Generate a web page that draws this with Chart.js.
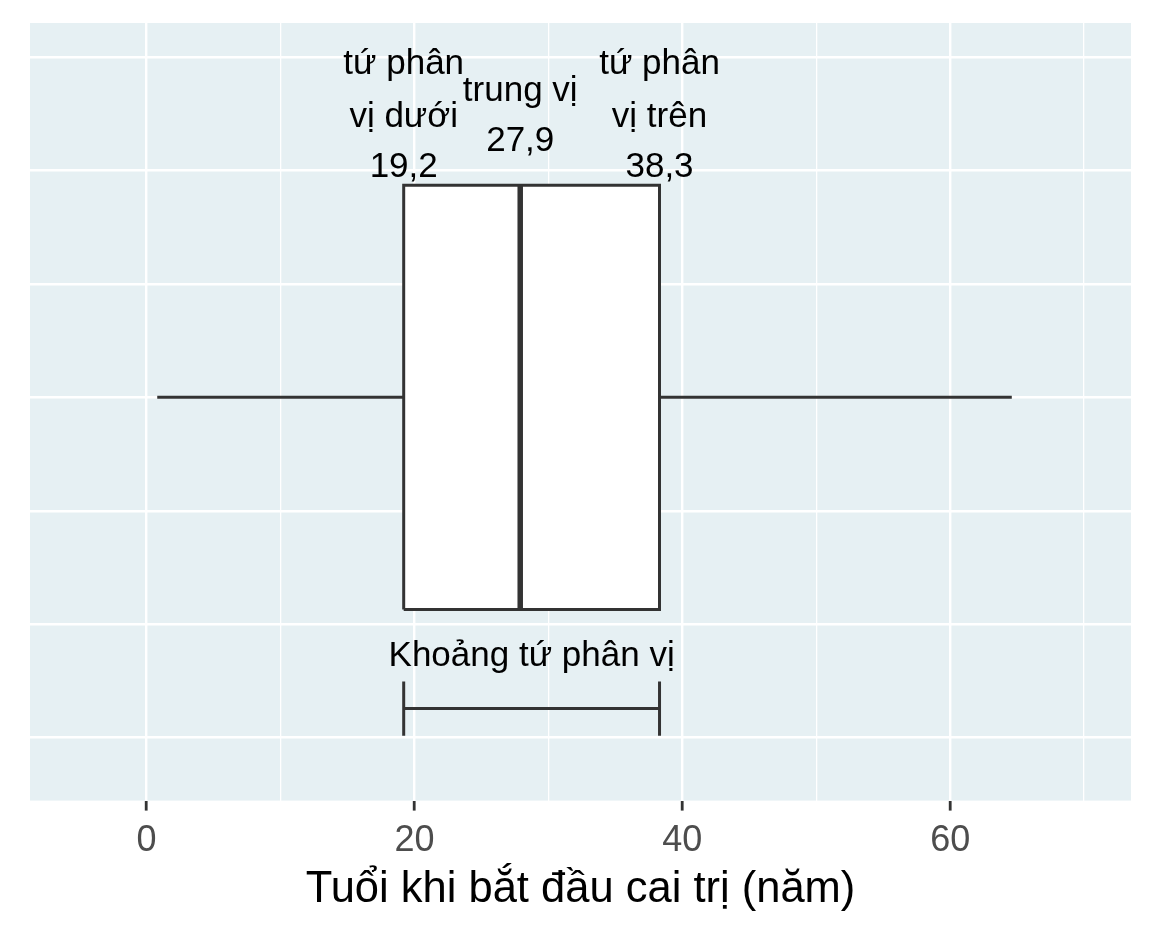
<html>
  <head>
    <style>
      body { margin: 0; background: #ffffff; }
      #wrap { width: 1152px; height: 928px; }
    </style>
  </head>

  <body>
    <div id="wrap"><canvas id="myChart"></canvas></div>

    <script src="https://cdn.jsdelivr.net/npm/chart.js@4/dist/chart.umd.min.js"></script>
    <script>
      // five-number summary of reign start ages (years)
      const statNames = ['min', 'q1', 'median', 'q3', 'max']
      const statValues = [0.8, 19.2, 27.9, 38.3, 64.6]
      const xTickValues = [0, 10, 20, 30, 40, 50, 60, 70]
      const xTickLabels = ['0', '', '20', '', '40', '', '60', '']
      const q1Label = ['tứ phân', 'vị dưới', '19,2']
      const medianLabel = ['trung vị', '27,9']
      const q3Label = ['tứ phân', 'vị trên', '38,3']
      const iqrLabel = 'Khoảng tứ phân vị'
      const axisTitle = 'Tuổi khi bắt đầu cai trị (năm)'

      const s = {}
      statNames.forEach((n, i) => (s[n] = statValues[i]))

      const FONT = "'Liberation Sans', Arial, sans-serif"
      const INK = '#333333'
      const mid = 3, half = 1.87, brY = 0.255, brH = 0.24

      const panelBg = {
        id: 'panelBg',
        beforeDraw(chart) {
          const a = chart.chartArea, c = chart.ctx
          c.save()
          c.fillStyle = '#e6f0f3'
          c.fillRect(a.left, a.top, a.right - a.left, a.bottom - a.top)
          c.restore()
        },
      }

      const labels = {
        id: 'labels',
        afterDatasetsDraw(chart) {
          const c = chart.ctx, x = chart.scales.x, y = chart.scales.y
          c.save()
          c.fillStyle = '#000000'
          c.font = '35px ' + FONT
          c.textAlign = 'center'
          c.textBaseline = 'alphabetic'
          const put = (lines, xv, ys) =>
            lines.forEach((t, i) => c.fillText(t, x.getPixelForValue(xv), y.getPixelForValue(ys[i])))
          put(q1Label, s.q1, [5.85, 5.38, 4.94])
          put(medianLabel, s.median, [5.61, 5.17])
          put(q3Label, s.q3, [5.85, 5.38, 4.94])
          put([iqrLabel], (s.q1 + s.q3) / 2, [0.63])
          c.restore()
        },
      }

      const line = (pts, width, order, extra) =>
        Object.assign({
          data: pts, showLine: true, borderColor: INK, borderWidth: width,
          pointRadius: 0, order: order, fill: false,
        }, extra || {})

      let chart = new Chart(document.getElementById('myChart'), {
        type: 'scatter',
        data: {
          datasets: [
            line([{ x: s.q1, y: mid - half }, { x: s.q1, y: mid + half }, { x: s.q3, y: mid + half },
                  { x: s.q3, y: mid - half }, { x: s.q1, y: mid - half }], 3, 3,
                 { fill: 'shape', backgroundColor: '#ffffff' }),
            line([{ x: s.min, y: mid }, { x: s.q1, y: mid }], 3, 4),
            line([{ x: s.q3, y: mid }, { x: s.max, y: mid }], 3, 4),
            line([{ x: s.median, y: mid - half }, { x: s.median, y: mid + half }], 5.5, 1),
            line([{ x: s.q1, y: brY }, { x: s.q3, y: brY }], 3, 2),
            line([{ x: s.q1, y: brY - brH }, { x: s.q1, y: brY + brH }], 3, 2),
            line([{ x: s.q3, y: brY - brH }, { x: s.q3, y: brY + brH }], 3, 2),
          ],
        },
        options: {
          responsive: true,
          maintainAspectRatio: false,
          animation: false,
          layout: { padding: { left: 30, right: 21, top: 23, bottom: 12 } },
          plugins: { legend: { display: false }, tooltip: { enabled: false } },
          scales: {
            x: {
              type: 'linear',
              min: -8.7,
              max: 73.5,
              afterBuildTicks: (sc) => (sc.ticks = xTickValues.map((v) => ({ value: v }))),
              ticks: {
                autoSkip: false,
                maxRotation: 0,
                padding: 9,
                color: '#4d4d4d',
                font: { family: FONT, size: 36 },
                callback: (v) => xTickLabels[xTickValues.indexOf(v)],
              },
              grid: {
                color: '#ffffff',
                lineWidth: (ctx) => (ctx.tick && ctx.tick.value % 20 === 0 ? 2.4 : 1.3),
                tickColor: (ctx) => (ctx.tick && ctx.tick.value % 20 === 0 ? INK : 'rgba(0,0,0,0)'),
                tickWidth: 2.8,
                tickLength: 10,
              },
              border: { display: false },
              title: {
                display: true,
                text: axisTitle,
                color: '#000000',
                font: { family: FONT, size: 43.5 },
                padding: { top: -8, bottom: 0 },
              },
            },
            y: {
              type: 'linear',
              min: -0.556,
              max: 6.3,
              afterBuildTicks: (sc) => (sc.ticks = [0, 1, 2, 3, 4, 5, 6].map((v) => ({ value: v }))),
              ticks: { display: false },
              grid: { color: '#ffffff', lineWidth: 2.4, drawTicks: false },
              border: { display: false },
            },
          },
        },
        plugins: [panelBg, labels],
      })
    </script>
  </body>
</html>
